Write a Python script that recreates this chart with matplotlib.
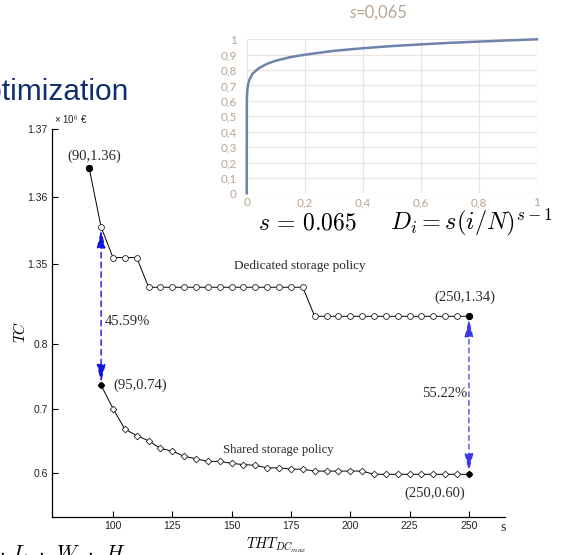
import numpy as np
import matplotlib.pyplot as plt

W, H = 561, 555

# --- data ---
thd_ded = [90, 95, 100, 105, 110, 115, 120, 125, 130, 135, 140, 145, 150, 155, 160,
           165, 170, 175, 180, 185, 190, 195, 200, 205, 210, 215, 220, 225, 230,
           235, 240, 245, 250]
tc_ded = [1.3642, 1.3555, 1.3510, 1.3510, 1.3510] + [1.3466] * 14 + [1.3423] * 14

thd_sh = [95, 100, 105, 110, 115, 120, 125, 130, 135, 140, 145, 150, 155, 160, 165,
          170, 175, 180, 185, 190, 195, 200, 205, 210, 215, 220, 225, 230, 235,
          240, 245, 250]
tc_sh = [0.736, 0.700, 0.668, 0.658, 0.650, 0.638, 0.634, 0.626, 0.622, 0.618,
         0.618, 0.615, 0.613, 0.612, 0.608, 0.608, 0.606, 0.606, 0.603, 0.603,
         0.603, 0.603, 0.603, 0.598, 0.598, 0.598, 0.598, 0.598, 0.598, 0.598,
         0.598, 0.598]

xticks = [100, 125, 150, 175, 200, 225, 250]
yticks = [0.6, 0.7, 0.8, 1.35, 1.36, 1.37]
ytick_labels = ["0.6", "0.7", "0.8", "1.35", "1.36", "1.37"]

# inset: cumulative demand curve, s = 0.065
cdf_x = [0, 0.0005, 0.002, 0.005, 0.01, 0.02, 0.04, 0.07, 0.1, 0.15, 0.2, 0.3,
         0.4, 0.5, 0.6, 0.7, 0.8, 0.9, 1.0]
cdf_y = [0, 0.61, 0.67, 0.71, 0.74, 0.776, 0.81, 0.841, 0.861, 0.884, 0.9, 0.925,
         0.942, 0.956, 0.967, 0.977, 0.985, 0.993, 1.0]
in_xticks = [0, 0.2, 0.4, 0.6, 0.8, 1.0]
in_xlabels = ["0", "0,2", "0,4", "0,6", "0,8", "1"]
in_yticks = [0, 0.1, 0.2, 0.3, 0.4, 0.5, 0.6, 0.7, 0.8, 0.9, 1.0]
in_ylabels = ["0", "0,1", "0,2", "0,3", "0,4", "0,5", "0,6", "0,7", "0,8", "0,9", "1"]

plt.rcParams['mathtext.fontset'] = 'cm'


def fx(x):
    return x / W


def fy(y):
    return 1 - y / H


# broken y axis: lower part 0.6-0.8, upper part 1.34-1.37
knot_y = np.array([-10.0, 0.82, 1.3403, 10.0])
knot_t = np.array([(-10.0 - 0.6) * 645, (0.82 - 0.6) * 645,
                   208.7 + (1.3403 - 1.35) * 6750, 208.7 + (10.0 - 1.35) * 6750])


def fwd(y):
    return np.interp(y, knot_y, knot_t)


def inv(t):
    return np.interp(t, knot_t, knot_y)


fig = plt.figure(figsize=(W / 100, H / 100), dpi=100)

ax = fig.add_axes([fx(52), fy(517), fx(505) - fx(52), fy(129.3) - fy(517)])
ax.set_yscale('function', functions=(fwd, inv))
ax.set_xlim(74.3, 265.2)
ax.set_ylim(0.5318, 1.37)

ax.plot(thd_ded, tc_ded, color='black', lw=0.7, marker='o', ms=4.2,
        mfc='white', mec='#222222', mew=0.6, zorder=3)
ax.plot(thd_sh, tc_sh, color='black', lw=0.7, marker='D', ms=3.4,
        mfc='white', mec='#222222', mew=0.6, zorder=3)
# highlighted end points
ax.plot([thd_ded[0], thd_ded[-1]], [tc_ded[0], tc_ded[-1]], 'o', color='black', ms=4.2, zorder=4)
ax.plot([thd_sh[0], thd_sh[-1]], [tc_sh[0], tc_sh[-1]], 'o', color='black', ms=3.4, zorder=4)

for sp in ['top', 'right']:
    ax.spines[sp].set_visible(False)
for sp in ['left', 'bottom']:
    ax.spines[sp].set_linewidth(0.9)
ax.set_xticks(xticks)
ax.set_yticks(yticks)
ax.set_yticklabels(ytick_labels)
ax.minorticks_off()
ax.tick_params(direction='in', length=4, width=0.8, labelsize=7.5,
               labelcolor='#222222', pad=3)
for lab in ax.get_xticklabels() + ax.get_yticklabels():
    lab.set_family('Liberation Sans')

# gap arrows
ax.annotate('', xy=(thd_sh[0], tc_sh[0]), xytext=(thd_ded[1], tc_ded[1]),
            arrowprops=dict(arrowstyle='<|-|>,head_length=0.9,head_width=0.22',
                            linestyle=(0, (4, 3)), color='#1414e0', lw=1.0,
                            shrinkA=2, shrinkB=2, mutation_scale=12))
ax.annotate('', xy=(thd_sh[-1], tc_sh[-1]), xytext=(thd_ded[-1], tc_ded[-1]),
            arrowprops=dict(arrowstyle='<|-|>,head_length=0.9,head_width=0.22',
                            linestyle=(0, (4, 3)), color='#3a3ae6', lw=0.9,
                            shrinkA=2, shrinkB=2, mutation_scale=12))

serif = 'Liberation Serif'
lab_kw = dict(family=serif, fontsize=10.5, color='#2a2a2a')
fig.text(fx(94), fy(160), '(90,1.36)', ha='center', **lab_kw)
fig.text(fx(113), fy(389), '(95,0.74)', ha='left', **lab_kw)
fig.text(fx(465), fy(301), '(250,1.34)', ha='center', **lab_kw)
fig.text(fx(435), fy(497), '(250,0.60)', ha='center', **lab_kw)
fig.text(fx(105), fy(325), '45.59%', ha='left', **lab_kw)
fig.text(fx(467), fy(397), '55.22%', ha='right', **lab_kw)
fig.text(fx(300), fy(269), 'Dedicated storage policy', ha='center',
         family=serif, fontsize=9.5, color='#2a2a2a')
fig.text(fx(278), fy(453), 'Shared storage policy', ha='center',
         family=serif, fontsize=9.2, color='#2a2a2a')

fig.text(fx(54), fy(124), '× 10$^6$ €', family='Liberation Sans', fontsize=7,
         color='#222222')
fig.text(fx(20), fy(332), r'$TC$', rotation=90, ha='center', va='center', fontsize=11)
fig.text(fx(276), fy(549), r'$THT_{DC_{max}}$', ha='center', fontsize=10.5)
fig.text(fx(503), fy(531), 's', ha='center', family=serif, fontsize=10, color='#222222')
fig.text(fx(-1), fy(559), r'$\cdot\;\, L\;\, \cdot\;\, W\;\, \cdot\;\, H$', ha='left',
         fontsize=15)

fig.text(fx(129), fy(100), 'Optimization', ha='right', family='Liberation Sans',
         fontsize=21.5, color='#0e2f6b')

# inset chart
tan = '#b9a493'
ax2 = fig.add_axes([fx(246.7), fy(193.3), fx(537) - fx(246.7), fy(39.3) - fy(193.3)])
ax2.plot(cdf_x, cdf_y, color='#6f82a9', lw=1.8, clip_on=False, zorder=3)
ax2.set_xlim(0, 1)
ax2.set_ylim(0, 1)
ax2.set_xticks(in_xticks)
ax2.set_xticklabels(in_xlabels)
ax2.set_yticks(in_yticks)
ax2.set_yticklabels(in_ylabels)
ax2.grid(True, color='#ece4de', lw=0.9)
ax2.set_axisbelow(True)
for sp in ax2.spines.values():
    sp.set_visible(False)
ax2.tick_params(length=0, labelsize=8.5, labelcolor=tan)
ax2.tick_params(axis='y', pad=7)
ax2.tick_params(axis='x', pad=3)
for lab in ax2.get_xticklabels() + ax2.get_yticklabels():
    lab.set_family('Lato')
fig.text(fx(356), fy(18), 's', ha='right', family='Lato', style='italic',
         fontsize=12, color=tan)
fig.text(fx(356), fy(18), '=0,065', ha='left', family='Lato', fontsize=12, color=tan)

fig.text(fx(258), fy(229), r'$s\,=\,0.065$', ha='left', fontsize=17)
fig.text(fx(390), fy(229), r'$D_i = s(i/N)^{s-1}$', ha='left', fontsize=17.5)

fig.savefig('out.png', dpi=100)
